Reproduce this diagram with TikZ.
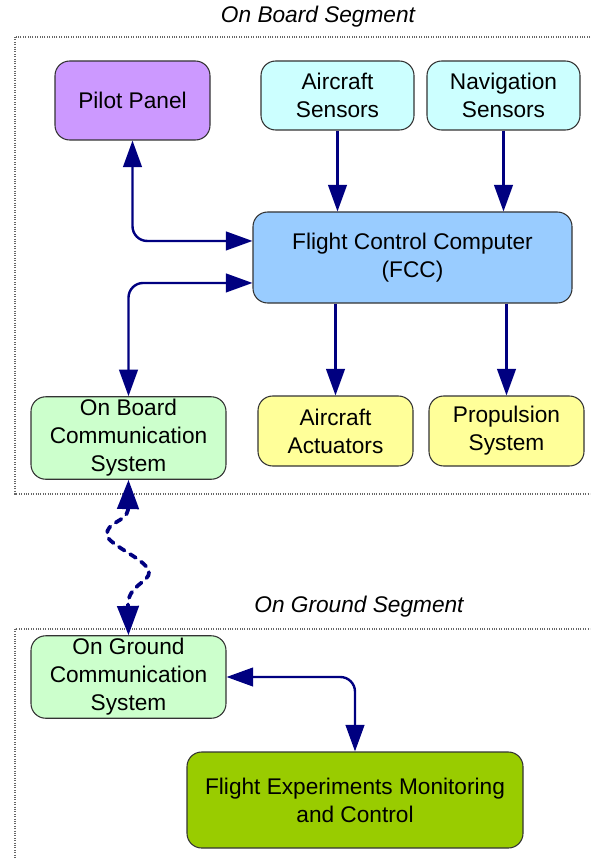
\documentclass[tikz,border=0pt]{standalone}
\usepackage{fontspec}
\setmainfont{Liberation Sans}
\usepackage{tikz}
\usetikzlibrary{arrows.meta,positioning,calc}
\definecolor{navyline}{RGB}{0,0,128}
\definecolor{pilotpurple}{RGB}{204,153,255}
\definecolor{sensorcyan}{RGB}{204,255,255}
\definecolor{fccblue}{RGB}{153,204,255}
\definecolor{commgreen}{RGB}{204,255,204}
\definecolor{actyellow}{RGB}{255,255,153}
\definecolor{monolive}{RGB}{153,204,0}
\definecolor{boxedge}{RGB}{51,51,51}
\begin{document}
\begin{tikzpicture}[x=0.75pt,y=-0.75pt,>={Triangle[length=20pt,width=14pt]}]
\tikzstyle{unit}=[draw=boxedge,line width=0.8pt,rounded corners=11pt,align=center,font=\fontsize{17}{21}\selectfont,inner sep=2pt]
\tikzstyle{link}=[navyline,line width=1.8pt,rounded corners=11pt]
\tikzstyle{radiolink}=[navyline,line width=2.8pt,dash pattern=on 5pt off 5pt,line cap=round]
\tikzstyle{segline}=[draw=black!60,line width=0.8pt,densely dotted]
\tikzstyle{segtitle}=[font=\fontsize{17}{21}\selectfont\itshape]
\useasboundingbox (0,0) rectangle (590,859);
\clip (0,0) rectangle (590,859);

% segments
\draw[segline] (15,37) rectangle (610,494);
\draw[segline] (15,629) rectangle (610,880);
\node[segtitle] (tboard) at (318,17) {On Board Segment};
\node[segtitle] (tground) at (359,607) {On Ground Segment};

% on board units
\node[unit,fill=pilotpurple,minimum width=116.25pt,minimum height=59.25pt] (pilot) at (132.5,100.5) {Pilot Panel};
\node[unit,fill=sensorcyan,minimum width=114.75pt,minimum height=51.75pt] (acs) at (337.5,95.5) {Aircraft\\Sensors};
\node[unit,fill=sensorcyan,minimum width=114.75pt,minimum height=51.75pt] (nav) at (503.5,95.5) {Navigation\\Sensors};
\node[unit,fill=fccblue,minimum width=239.25pt,minimum height=68.25pt] (fcc) at (412.5,257.5) {Flight Control Computer\\(FCC)};
\node[unit,fill=commgreen,minimum width=146.25pt,minimum height=61.5pt] (obc) at (128.5,438) {On Board\\Communication\\System};
\node[unit,fill=actyellow,minimum width=116.25pt,minimum height=52.5pt] (act) at (335.5,431) {Aircraft\\Actuators};
\node[unit,fill=actyellow,minimum width=116.25pt,minimum height=52.5pt] (prop) at (506.5,431) {Propulsion\\System};

% on ground units
\node[unit,fill=commgreen,minimum width=146.25pt,minimum height=61.5pt] (ogc) at (128.5,677) {On Ground\\Communication\\System};
\node[unit,fill=monolive,minimum width=252pt,minimum height=72pt] (fem) at (355,800) {Flight Experiments Monitoring\\and Control};

% connectors
\draw[link,<->] (pilot.south) |- ([yshift=12.4pt]fcc.west);
\draw[link,<->] ([yshift=-19.1pt]fcc.west) -| (obc.north);
\draw[link,->] (acs.south) -- (acs.south |- fcc.north);
\draw[link,->] (nav.south) -- (nav.south |- fcc.north);
\draw[link,->] (act.north |- fcc.south) -- (act.north);
\draw[link,->] (prop.north |- fcc.south) -- (prop.north);
\draw[link,<->] (ogc.east) -| (fem.north);
\draw[radiolink,<->,>={Triangle[length=22pt,width=16pt]}] (obc.south) -- (128,510) .. controls (126,522) and (106,522) .. (107,535)
  .. controls (108,545) and (148,560) .. (149,572) .. controls (150,582) and (128,585) .. (128,605) -- (ogc.north);
\end{tikzpicture}
\end{document}
